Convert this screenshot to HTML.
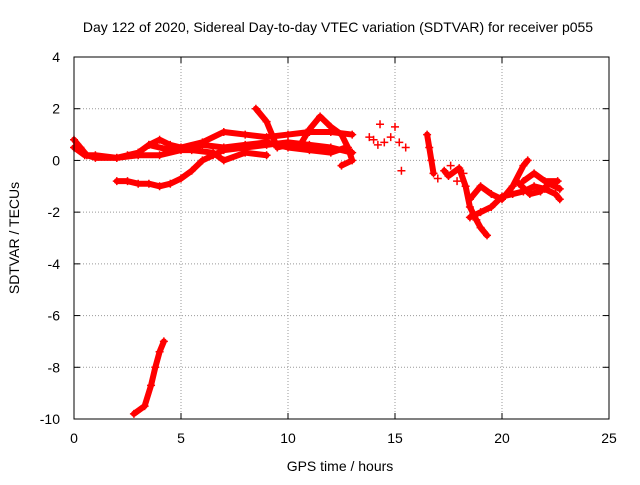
<!DOCTYPE html>
<html><head><meta charset="utf-8"><style>
body{margin:0;background:#fff}
svg{font-family:"Liberation Sans",sans-serif}
</style></head><body>
<svg id="c" width="640" height="480" xmlns="http://www.w3.org/2000/svg">
<rect width="640" height="480" fill="#fff"/>
<text x="338" y="32" font-size="14" text-anchor="middle">Day 122 of 2020, Sidereal Day-to-day VTEC variation (SDTVAR) for receiver p055</text>
<text x="340" y="471" font-size="14" text-anchor="middle">GPS time / hours</text>
<text transform="translate(19,238) rotate(-90)" font-size="14" text-anchor="middle">SDTVAR / TECUs</text>
<g id="grid"></g><g id="marks"></g>
<rect x="74" y="57" width="535" height="362" fill="none" stroke="#000" stroke-width="1"/>
</svg>
<script>
const xTicks=[0,5,10,15,20,25];
const yTicks=[4,2,0,-2,-4,-6,-8,-10];
const trackA=[[0,0.8],[0.3,0.5],[0.6,0.2],[1,0.1],[2,0.1],[2.5,0.2],[3,0.3],[3.5,0.6],[4,0.8],[4.5,0.6],[5,0.5],[6,0.7],[7,1.1],[8,1.0],[9,0.9],[10,1.0],[11,1.1],[12,1.1],[13,1.0]];
const trackB=[[0,0.5],[0.5,0.2],[1,0.2],[2,0.1],[3,0.2],[4,0.2],[5,0.4],[6,0.6],[7,0.5],[8,0.6],[9,0.7],[10,0.5],[11,0.4],[12,0.3],[12.7,0.5]];
const trackC=[[2,-0.8],[2.5,-0.8],[3,-0.9],[3.5,-0.9],[4,-1.0],[4.5,-0.9],[5,-0.7],[5.5,-0.4],[6,0.0],[6.5,0.2],[7,0.4],[8,0.5],[9,0.6],[10,0.7],[11,0.6],[12,0.5],[13,0.3]];
const trackD=[[3.5,0.6],[4.5,0.4],[5.5,0.4],[6.5,0.3],[7,0.0],[8,0.3],[9,0.2]];
const trackE=[[8.5,2.0],[9,1.5],[9.5,0.5],[10,0.6]];
const trackF=[[10.5,0.5],[11,1.2],[11.5,1.7],[12,1.3],[12.5,1.0],[12.8,0.5],[13,0.0],[12.5,-0.2]];
const trackG=[[16.5,1.0],[16.6,0.5],[16.7,0.0],[16.8,-0.5]];
const trackH=[[17.3,-0.4],[17.5,-0.6],[18,-0.3],[18.3,-1.0],[18.5,-1.8],[18.8,-2.3],[19,-2.6],[19.3,-2.9]];
const trackI=[[18.5,-1.5],[19,-1.0],[19.5,-1.3],[20,-1.5],[20.5,-1.0],[21,-0.2],[21.2,0.0]];
const trackJ=[[18.5,-2.2],[19,-2.0],[19.5,-1.8],[20,-1.4],[20.5,-1.3],[21,-1.2],[21.5,-1.0],[22,-1.1],[22.5,-1.3],[22.7,-1.5]];
const trackK=[[21,-0.8],[21.5,-0.5],[22,-0.8],[22.6,-0.8]];
const trackM=[[20.8,-0.9],[21.3,-1.3],[21.8,-1.2],[22.2,-0.9],[22.7,-1.1]];
const trackL=[[2.8,-9.8],[3.3,-9.5],[3.6,-8.7],[3.8,-8.0],[4.0,-7.4],[4.2,-7.0]];
const scatterPts=[[14,0.8],[14.3,1.4],[14.5,0.7],[14.8,0.9],[15,1.3],[15.2,0.7],[15.5,0.5],[15.3,-0.4],[13.8,0.9],[14.2,0.6],[17,-0.7],[17.6,-0.2],[17.9,-0.8],[18.2,-0.5]];
const NS="http://www.w3.org/2000/svg";
const xS=v=>74+v/25*535, yS=v=>57+(4-v)/14*362;
const grid=document.getElementById('grid'), marks=document.getElementById('marks');
function mk(t,a,p){const e=document.createElementNS(NS,t);for(const k in a)e.setAttribute(k,a[k]);p.appendChild(e);return e;}
xTicks.forEach(v=>{
 if(v>0&&v<25){const g=mk('line',{x1:xS(v),x2:xS(v),y1:57,y2:419,stroke:'#999','stroke-dasharray':'1,2'},grid);
 
 }
 mk('line',{x1:xS(v),x2:xS(v),y1:419,y2:413,stroke:'#000'},grid);
 mk('line',{x1:xS(v),x2:xS(v),y1:57,y2:63,stroke:'#000'},grid);
 const t=mk('text',{x:xS(v),y:443,'font-size':14,'text-anchor':'middle'},grid);t.textContent=v;
 
 
});
yTicks.forEach(v=>{
 if(v>-10&&v<4){const g=mk('line',{x1:74,x2:609,y1:yS(v),y2:yS(v),stroke:'#999','stroke-dasharray':'1,2'},grid);
 
 }
 mk('line',{x1:74,x2:80,y1:yS(v),y2:yS(v),stroke:'#000'},grid);
 mk('line',{x1:609,x2:603,y1:yS(v),y2:yS(v),stroke:'#000'},grid);
 const t=mk('text',{x:60,y:yS(v)+5,'font-size':14,'text-anchor':'end'},grid);t.textContent=v;
 
 
});
function plus(p){const x=xS(p[0]),y=yS(p[1]);
 const e=mk('path',{d:`M${x-4},${y}H${x+4}M${x},${y-4}V${y+4}`,stroke:'#f00','stroke-width':1.5},marks);
 
 }
[trackA,trackB,trackC,trackD,trackE,trackF,trackG,trackH,trackI,trackJ,trackK,trackM,trackL].forEach(tr=>{
 const l=mk('polyline',{points:tr.map(p=>xS(p[0])+','+yS(p[1])).join(' '),fill:'none',stroke:'#f00','stroke-width':6,'stroke-linejoin':'round','stroke-linecap':'round'},marks);
 
 
 tr.forEach(plus);
});
scatterPts.forEach(plus);
</script>
</body></html>
